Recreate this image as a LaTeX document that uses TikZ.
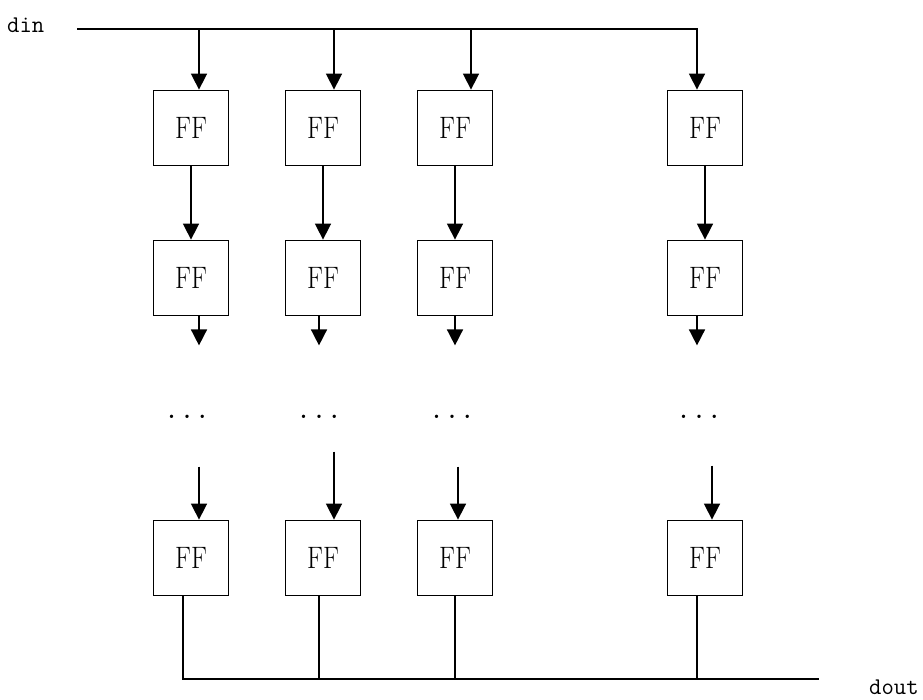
\documentclass[tikz,border=0pt]{standalone}
\usetikzlibrary{arrows.meta}

\newcommand{\fflabel}{\scalebox{0.85}[1]{FF}}

\tikzset{
  ffbox/.style = {draw, line width = 1.8pt, minimum width = 75pt, minimum height = 75pt, inner sep = 0pt, font = \fontsize{31}{31}\selectfont},
  arr/.style = {line width = 1.6pt, -{Triangle[length = 16pt, width = 16pt]}},
  wire/.style = {line width = 1.6pt},
  mono/.style = {inner sep = 0pt, font = \fontsize{24}{24}\selectfont\ttfamily},
  dotrow/.style = {inner sep = 0pt, anchor = base, font = \fontsize{30}{30}\selectfont\ttfamily}
}

\begin{document}
\begin{tikzpicture}[x = 1pt, y = -1pt]
      \useasboundingbox (0, 0) rectangle (923, 699);
      \node[mono, anchor = base west] (din) at (7, 32) {din};
      \node[mono, anchor = base west] (dout) at (869, 694) {dout};
      \coordinate (inL) at (77, 29);
      \coordinate (outR) at (819, 679);
      % flip-flop rows
      \node[ffbox] (f11) at (191, 128) {\fflabel};
      \node[ffbox] (f12) at (323, 128) {\fflabel};
      \node[ffbox] (f13) at (455, 128) {\fflabel};
      \node[ffbox] (f14) at (705, 128) {\fflabel};
      \node[ffbox] (f21) at (191, 278) {\fflabel};
      \node[ffbox] (f22) at (323, 278) {\fflabel};
      \node[ffbox] (f23) at (455, 278) {\fflabel};
      \node[ffbox] (f24) at (705, 278) {\fflabel};
      \node[ffbox] (f31) at (191, 558) {\fflabel};
      \node[ffbox] (f32) at (323, 558) {\fflabel};
      \node[ffbox] (f33) at (455, 558) {\fflabel};
      \node[ffbox] (f34) at (705, 558) {\fflabel};
      \node[dotrow] (d1) at (187, 418) {...};
      \node[dotrow] (d2) at (319, 418) {...};
      \node[dotrow] (d3) at (452, 418) {...};
      \node[dotrow] (d4) at (699, 418) {...};
      % din bus
      \draw[arr] (inL) -- ([xshift = -8pt]f14.north |- inL) -- ([xshift = -8pt]f14.north);
      \draw[arr] ([xshift = 8pt]f11.north |- inL) -- ([xshift = 8pt]f11.north);
      \draw[arr] ([xshift = 11pt]f12.north |- inL) -- ([xshift = 11pt]f12.north);
      \draw[arr] ([xshift = 16pt]f13.north |- inL) -- ([xshift = 16pt]f13.north);
      % chains
      \draw[arr] (f11) -- (f21);
      \draw[arr] (f12) -- (f22);
      \draw[arr] (f13) -- (f23);
      \draw[arr] (f14) -- (f24);
      \draw[arr] ([xshift = 8pt]f21.south) -- +(0, 29);
      \draw[arr] ([xshift = -4pt]f22.south) -- +(0, 29);
      \draw[arr] (f23.south) -- +(0, 29);
      \draw[arr] ([xshift = -8pt]f24.south) -- +(0, 29);
      \draw[arr] ([xshift = 8pt, yshift = 53pt]f31.north) -- ([xshift = 8pt]f31.north);
      \draw[arr] ([xshift = 11pt, yshift = 68pt]f32.north) -- ([xshift = 11pt]f32.north);
      \draw[arr] ([xshift = 3pt, yshift = 53pt]f33.north) -- ([xshift = 3pt]f33.north);
      \draw[arr] ([xshift = 7pt, yshift = 54pt]f34.north) -- ([xshift = 7pt]f34.north);
      % dout bus
      \draw[wire] ([xshift = -8pt]f31.south) |- (outR);
      \draw[wire] ([xshift = -4pt]f32.south) -- ([xshift = -4pt]f32.south |- outR);
      \draw[wire] (f33.south) -- (f33.south |- outR);
      \draw[wire] ([xshift = -8pt]f34.south) -- ([xshift = -8pt]f34.south |- outR);
\end{tikzpicture}
\end{document}
